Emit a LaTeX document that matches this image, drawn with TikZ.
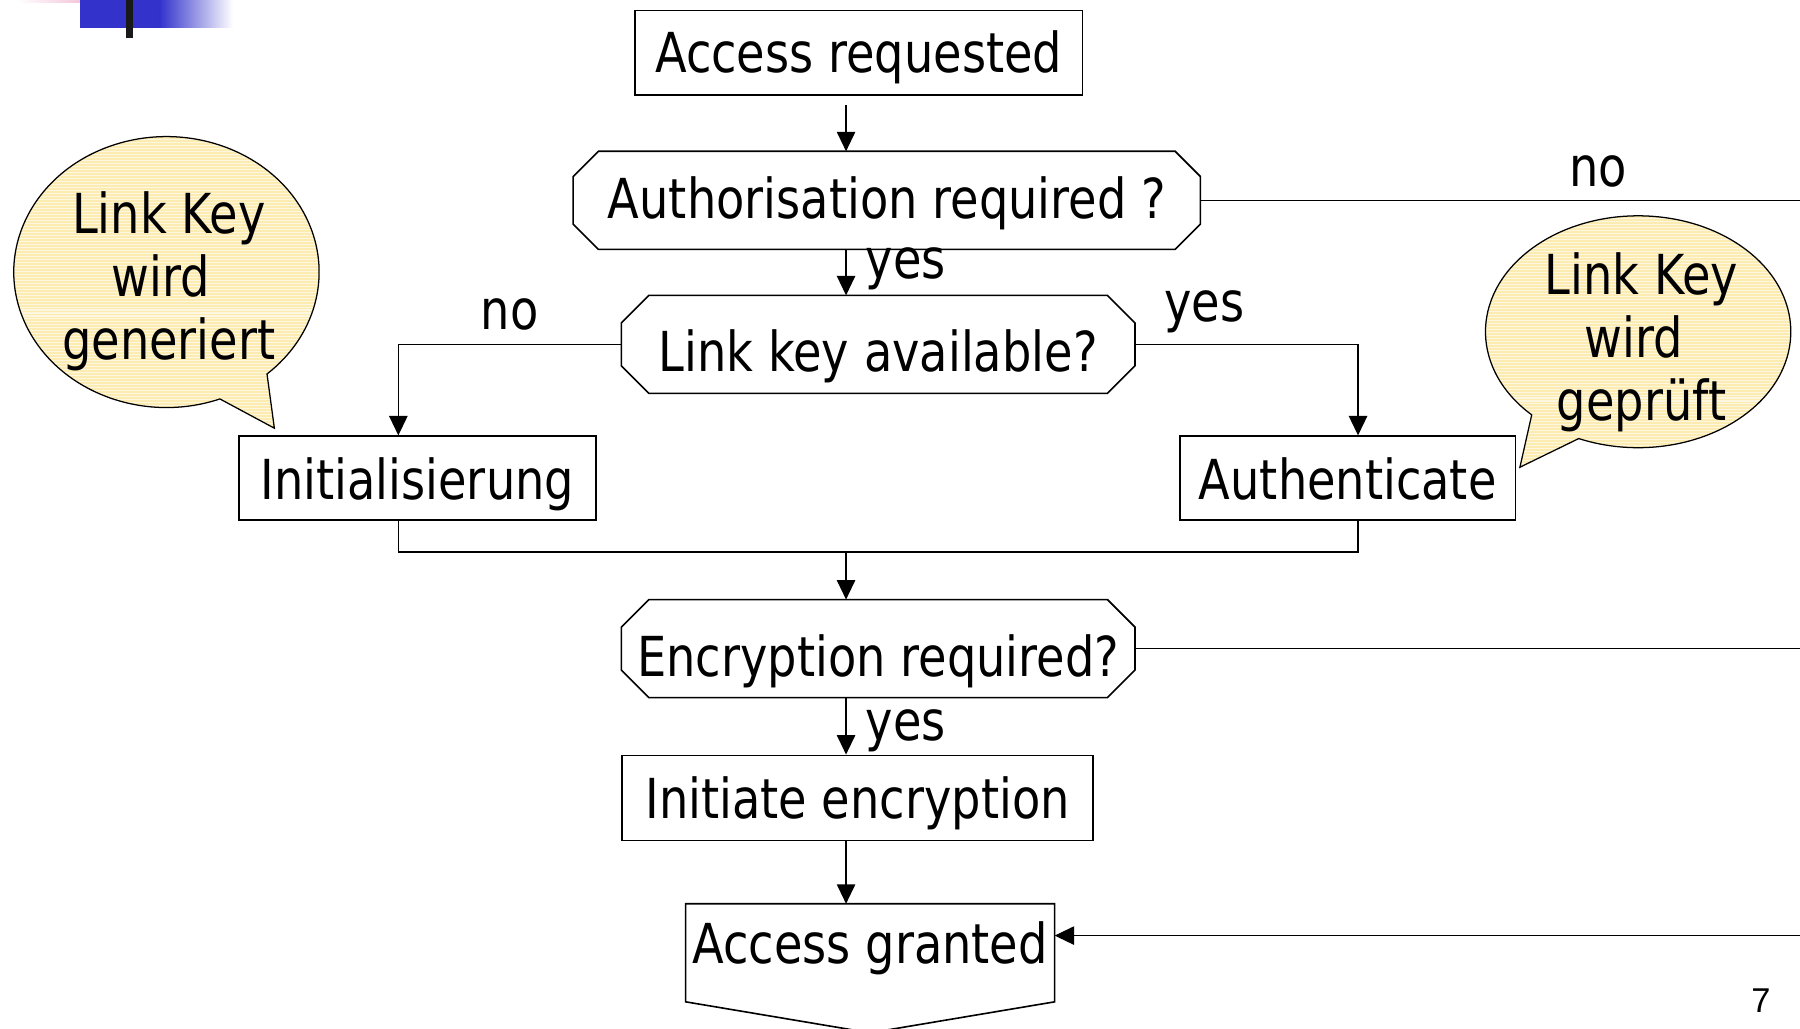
\documentclass[tikz,border=0pt]{standalone}
\usepackage{fontspec}
\setmainfont{DejaVu Sans}[FakeStretch=0.84]
\newfontfamily\pagefont{Liberation Sans}
\usetikzlibrary{arrows.meta,calc}
\definecolor{calloutfill}{RGB}{252,236,178}
\definecolor{logoblue}{RGB}{51,51,204}
\definecolor{logopink}{RGB}{238,170,200}

% draws an octagonal outline around a (rectangular, undrawn) node
\newcommand\octoutline[2]{%
  \draw ($(#1.north west)+(#2,0)$) -- ($(#1.north east)+(-#2,0)$)
    -- ($(#1.north east)+(0,#2)$) -- ($(#1.south east)+(0,-#2)$)
    -- ($(#1.south east)+(-#2,0)$) -- ($(#1.south west)+(#2,0)$)
    -- ($(#1.south west)+(0,-#2)$) -- ($(#1.north west)+(0,#2)$) -- cycle;}

\begin{document}
\begin{tikzpicture}[x=1pt,y=-1pt,line width=1.4pt,
  every node/.style={font=\fontsize{48}{55}\selectfont,inner sep=0pt},
  box/.style={draw,rectangle,minimum width=#1,minimum height=74pt,
    text height=36.5pt,text depth=0pt},
  octo/.style={rectangle,minimum width=#1,minimum height=84pt,text depth=0pt},
  arr/.style={-{Triangle[length=17pt,width=16pt]}},
  lbl/.style={anchor=center},
  stripes/.style={fill=calloutfill,
    path picture={\foreach \k in {0,2.6,...,280}{
      \draw[white,opacity=.6,line width=.9pt]
        ($(path picture bounding box.north west)+(-5,\k)$) -- ++(320,0);}}}]

\useasboundingbox (0,0) rectangle (1568,896);

% corner logo fragment
\shade[left color=white,right color=logopink] (15,0) rectangle (97,2);
\fill[logoblue] (70,0) rectangle (139,24);
\shade[left color=logoblue,right color=white] (139,0) rectangle (203,24);
\fill[black!90] (110,0) rectangle (116,33);

% reference lines
\coordinate (spine) at (737,0);
\coordinate (lx) at (347,0);
\coordinate (rx) at (1183,0);
\coordinate (mrg) at (0,481);
\coordinate (redge) at (1568,0);
\coordinate (grin) at (1568,815);

% flow nodes
\node[box=390pt,text height=34.5pt] (req) at (748,46) {Access requested};
\node[octo=545pt,text height=32pt] (auth) at (772.5,174.5) {Authorisation required ?};
\octoutline{auth}{22}
\node[octo=446pt,text height=47pt] (lk) at (765,300) {Link key available?};
\octoutline{lk}{24}
\node[box=311pt,minimum height=73pt] (init) at (363.5,416.5) {Initialisierung};
\node[box=292pt,minimum height=73pt] (authc) at (1174,416.5) {Authenticate};
\node[octo=446pt,text height=48pt] (enc) at (765,565) {Encryption required?};
\octoutline{enc}{24}
\node[box=410pt] (ienc) at (747,695) {Initiate encryption};
\node[rectangle,minimum width=320pt,minimum height=84pt,
  text height=18pt,text depth=0pt] (gr) at (758,830) {Access granted};
\draw (gr.north west) -- (gr.north east) -- (gr.south east)
  -- ($(gr.south)+(0,27)$) -- (gr.south west) -- cycle;

% connectors
\draw[arr] ($(req.south -| spine)+(0,8)$) -- (auth.north -| spine);
\draw (auth.east) -- (auth.east -| redge);
\node[lbl] (lno1) at (1392,149.5) {no};
\draw[arr] (auth.south -| spine) -- (lk.north -| spine);
\node[lbl] (lyes1) at (789,234) {yes};
\draw[arr] (lk.west) -| (init.north -| lx);
\node[lbl] (lno2) at (444,274) {no};
\draw[arr] (lk.east) -| (authc.north -| rx);
\node[lbl] (lyes2) at (1049,272) {yes};
\draw (init.south -| lx) |- (rx |- mrg) -- (authc.south -| rx);
\draw[arr] (spine |- mrg) -- (enc.north -| spine);
\draw (enc.east) -- (enc.east -| redge);
\draw[arr] (enc.south -| spine) -- (ienc.north -| spine);
\node[lbl] (lyes3) at (789,637) {yes};
\draw[arr] (ienc.south -| spine) -- (gr.north -| spine);
\draw[arr] (grin) -- (grin -| gr.east);

% callouts
\coordinate (c1) at (145,237);
\coordinate (t1) at (239,373);
\draw[stripes,line width=1.1pt] ($(c1)+(48.8:133 and 118)$) -- (t1)
  -- ($(c1)+(69.5:133 and 118)$)
  arc[start angle=69.5,end angle=408.8,x radius=133,y radius=118] -- cycle;
\node[align=center] (cl1) at (147,245) {Link Key\\wird\rule{14pt}{0pt}\\generiert};

\coordinate (c2) at (1427,289);
\coordinate (t2) at (1324,407);
\draw[stripes,line width=1.1pt] ($(c2)+(112.9:133 and 101)$) -- (t2)
  -- ($(c2)+(134.2:133 and 101)$)
  arc[start angle=134.2,end angle=472.9,x radius=133,y radius=101] -- cycle;
\node[align=center] (cl2) at (1430,298) {Link Key\\wird\rule{14pt}{0pt}\\geprüft};

% page number
\node[font=\pagefont\fontsize{30}{34}\selectfont] (pg) at (1534,872) {7};
\end{tikzpicture}
\end{document}
